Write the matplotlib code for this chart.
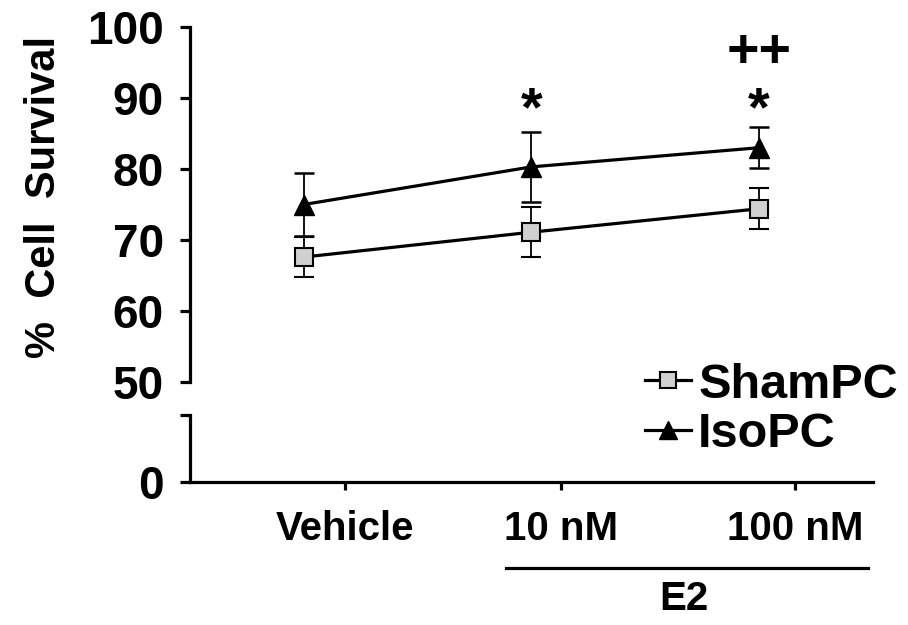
import matplotlib.pyplot as plt
from matplotlib.lines import Line2D
from matplotlib.transforms import blended_transform_factory

plt.rcParams['font.family'] = ['Liberation Sans', 'DejaVu Sans']
plt.rcParams['font.weight'] = 'bold'
plt.rcParams['axes.labelweight'] = 'bold'

# data
groups = ['Vehicle', '10 nM', '100 nM']
x_pos = [0, 1, 2]
tick_pos = [0.18, 1.13, 2.16]
sham_mean = [67.6, 71.1, 74.4]
sham_err = [2.8, 3.5, 2.9]
iso_mean = [75.0, 80.3, 83.0]
iso_err = [4.5, 4.9, 2.9]
sig_star = ['', '*', '*']
sig_plus = ['', '', '++']
y_ticks = [50, 60, 70, 80, 90, 100]

fig = plt.figure(figsize=(9.08, 6.25), dpi=100)
ax = fig.add_axes([0.2093, 0.3888, 0.752, 0.568])
axb = fig.add_axes([0.2093, 0.2288, 0.752, 0.1072], sharex=ax)

lw = 2.3
for a in (ax, axb):
    for s in ('top', 'right'):
        a.spines[s].set_visible(False)
    a.spines['left'].set_linewidth(lw)
    a.spines['bottom'].set_linewidth(lw)
ax.spines['bottom'].set_visible(False)

ax.errorbar(x_pos, sham_mean, yerr=sham_err, color='black', lw=lw, marker='s',
            ms=13, mfc='#d0d0d0', mec='black', mew=1.5, ecolor='black',
            elinewidth=1.3, capsize=7, capthick=1.8, zorder=3)
ax.errorbar(x_pos, iso_mean, yerr=iso_err, color='black', lw=lw, marker='^',
            ms=15, mfc='black', mec='black', ecolor='black',
            elinewidth=1.3, capsize=7, capthick=1.8, zorder=3)

for x, s, p in zip(x_pos, sig_star, sig_plus):
    if s:
        ax.text(x, 88.2, s, ha='center', va='center', fontsize=40)
    if p:
        ax.text(x, 96.4, p, ha='center', va='center', fontsize=40)

ax.set_ylim(50, 100)
ax.set_yticks(y_ticks)
ax.tick_params(axis='y', labelsize=33, length=7, width=lw, pad=12)
ax.tick_params(axis='x', bottom=False, labelbottom=False)
ax.set_ylabel('%  Cell  Survival', fontsize=30)
ax.yaxis.set_label_coords(-0.185, 0.52)

axb.set_xlim(-0.5, 2.5)
axb.set_ylim(0, 1)
axb.set_yticks([0, 1])
axb.set_yticklabels(['0', ''])
axb.tick_params(axis='y', labelsize=33, length=7, width=lw, pad=12)
axb.set_xticks(tick_pos)
axb.set_xticklabels(groups)
axb.tick_params(axis='x', labelsize=29, length=6, width=lw, pad=14)

tr = blended_transform_factory(axb.transData, axb.transAxes)
axb.plot([0.89, 2.48], [-1.28, -1.28], color='black', lw=lw, transform=tr, clip_on=False)
axb.text(1.67, -1.75, 'E2', ha='center', va='center', fontsize=29, transform=tr)

handles = [Line2D([], [], color='black', lw=lw, marker='s', ms=11, mfc='#d0d0d0', mec='black', mew=1.5),
           Line2D([], [], color='black', lw=lw, marker='^', ms=13, mfc='black', mec='black')]
fig.legend(handles, ['ShamPC', 'IsoPC'], loc='upper left', bbox_to_anchor=(0.71, 0.42),
           frameon=False, fontsize=35, handlelength=0.95, handletextpad=0.15,
           labelspacing=0.1, borderpad=0, borderaxespad=0)

fig.savefig('out.png', dpi=100)
